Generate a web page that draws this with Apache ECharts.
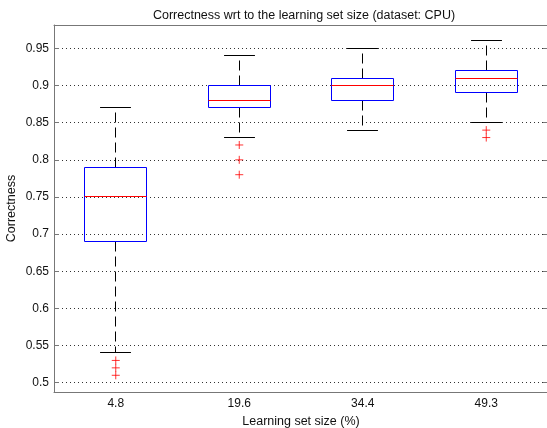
<!DOCTYPE html>
<html>
<head>
<meta charset="utf-8">
<script src="https://cdn.jsdelivr.net/npm/echarts@6/dist/echarts.min.js"></script>
<style>
  html, body { margin: 0; padding: 0; background: #fff; }
  #chart { width: 547px; height: 428px; }
</style>
</head>
<body>
<div id="chart"></div>
<script>
// learning set sizes (%)
const categories = ['4.8', '19.6', '34.4', '49.3'];
// box statistics
const lowerWhisker = [0.54, 0.83, 0.84, 0.85];
const q1 = [0.69, 0.87, 0.88, 0.89];
const median = [0.75, 0.88, 0.90, 0.91];
const q3 = [0.79, 0.90, 0.91, 0.92];
const upperWhisker = [0.87, 0.94, 0.95, 0.96];
// outliers: [category index, value]
const outliers = [
  [0, 0.53], [0, 0.52], [0, 0.51],
  [1, 0.82], [1, 0.80], [1, 0.78],
  [3, 0.84], [3, 0.83]
];
const yTicks = [0.5, 0.55, 0.6, 0.65, 0.7, 0.75, 0.8, 0.85, 0.9, 0.95];

const FONT = 'Liberation Sans, Arial, sans-serif';

const boxData = categories.map((c, i) => [i, lowerWhisker[i], q1[i], median[i], q3[i], upperWhisker[i]]);

// snap to pixel centres so thin lines stay crisp
const px = v => Math.round(v - 0.5) + 0.5;

function renderBox(params, api) {
  const idx = api.value(0);
  const band = api.size([1, 0])[0];
  const halfBox = band * 0.25;
  const halfCap = band * 0.125;
  const yLo = px(api.coord([idx, api.value(1)])[1]);
  const yQ1 = px(api.coord([idx, api.value(2)])[1]);
  const yMed = px(api.coord([idx, api.value(3)])[1]);
  const yQ3 = px(api.coord([idx, api.value(4)])[1]);
  const yHi = px(api.coord([idx, api.value(5)])[1]);
  const x = px(api.coord([idx, api.value(3)])[0]);
  const xl = px(x - halfBox), xr = px(x + halfBox);
  const dash = { stroke: '#000', lineWidth: 1, lineDash: [10, 5] };
  const solid = { stroke: '#000', lineWidth: 1 };
  return {
    type: 'group',
    children: [
      { type: 'line', shape: { x1: x, y1: yQ3, x2: x, y2: yHi }, style: dash },
      { type: 'line', shape: { x1: x, y1: yQ1, x2: x, y2: yLo }, style: dash },
      { type: 'line', shape: { x1: x - halfCap, y1: yHi, x2: x + halfCap, y2: yHi }, style: solid },
      { type: 'line', shape: { x1: x - halfCap, y1: yLo, x2: x + halfCap, y2: yLo }, style: solid },
      { type: 'rect', shape: { x: xl, y: yQ3, width: xr - xl, height: yQ1 - yQ3 },
        style: { fill: 'none', stroke: '#0000ff', lineWidth: 1 } },
      { type: 'line', shape: { x1: xl, y1: yMed, x2: xr, y2: yMed },
        style: { stroke: '#ff0000', lineWidth: 1 } }
    ]
  };
}

const chart = echarts.init(document.getElementById('chart'));
chart.setOption({
  animation: false,
  backgroundColor: '#fff',
  title: {
    text: 'Correctness wrt to the learning set size (dataset: CPU)',
    left: 299, top: 4, textAlign: 'center',
    textStyle: { fontFamily: FONT, fontSize: 12.5, fontWeight: 'normal', color: '#111' }
  },
  grid: { left: 54, top: 25, width: 494, height: 367, containLabel: false, outerBoundsMode: 'none' },
  xAxis: [{
    type: 'category',
    data: categories,
    boundaryGap: true,
    axisLine: { lineStyle: { color: '#777', width: 1 } },
    axisTick: { show: false },
    axisLabel: { fontFamily: FONT, fontSize: 12, color: '#111', margin: 6 },
    splitLine: { show: false },
    name: 'Learning set size (%)',
    nameLocation: 'middle',
    nameGap: 19,
    nameTextStyle: { fontFamily: FONT, fontSize: 12.5, color: '#111' }
  }, {
    type: 'category',
    data: categories,
    position: 'top',
    axisLine: { lineStyle: { color: '#777', width: 1 } },
    axisTick: { show: false },
    axisLabel: { show: false }
  }],
  yAxis: [{
    type: 'value',
    min: 0.4875,
    max: 0.9815,
    axisLine: { show: true, lineStyle: { color: '#777', width: 1 } },
    axisTick: { show: true, inside: true, length: 5, lineStyle: { color: '#777' }, customValues: yTicks },
    axisLabel: {
      fontFamily: FONT, fontSize: 12, color: '#111', margin: 5,
      customValues: yTicks,
      formatter: v => String(parseFloat(v.toFixed(2)))
    },
    splitLine: { show: false },
    name: 'Correctness',
    nameLocation: 'middle',
    nameGap: 36,
    nameMoveOverlap: false,
    nameTextStyle: { fontFamily: FONT, fontSize: 12.5, color: '#111' }
  }, {
    type: 'value',
    position: 'right',
    min: 0.4875,
    max: 0.9815,
    axisLine: { show: true, lineStyle: { color: '#777', width: 1 } },
    axisTick: { show: true, inside: true, length: 5, lineStyle: { color: '#777' }, customValues: yTicks },
    axisLabel: { show: false },
    splitLine: { show: false }
  }],
  series: [{
    type: 'line',
    data: [],
    silent: true,
    z: 0,
    markLine: {
      silent: true,
      z: 0,
      symbol: 'none',
      label: { show: false },
      lineStyle: { color: '#333', width: 1, type: [1, 3] },
      data: yTicks.map(v => ({ yAxis: v }))
    }
  }, {
    type: 'custom',
    renderItem: renderBox,
    encode: { x: 0, y: [1, 2, 3, 4, 5] },
    data: boxData,
    z: 5
  }, {
    type: 'scatter',
    data: outliers,
    symbol: 'path://M0,5L10,5M5,0L5,10',
    symbolSize: 8,
    itemStyle: { color: 'none', borderColor: '#ff0000', borderWidth: 1 },
    z: 6
  }]
});
</script>
</body>
</html>
